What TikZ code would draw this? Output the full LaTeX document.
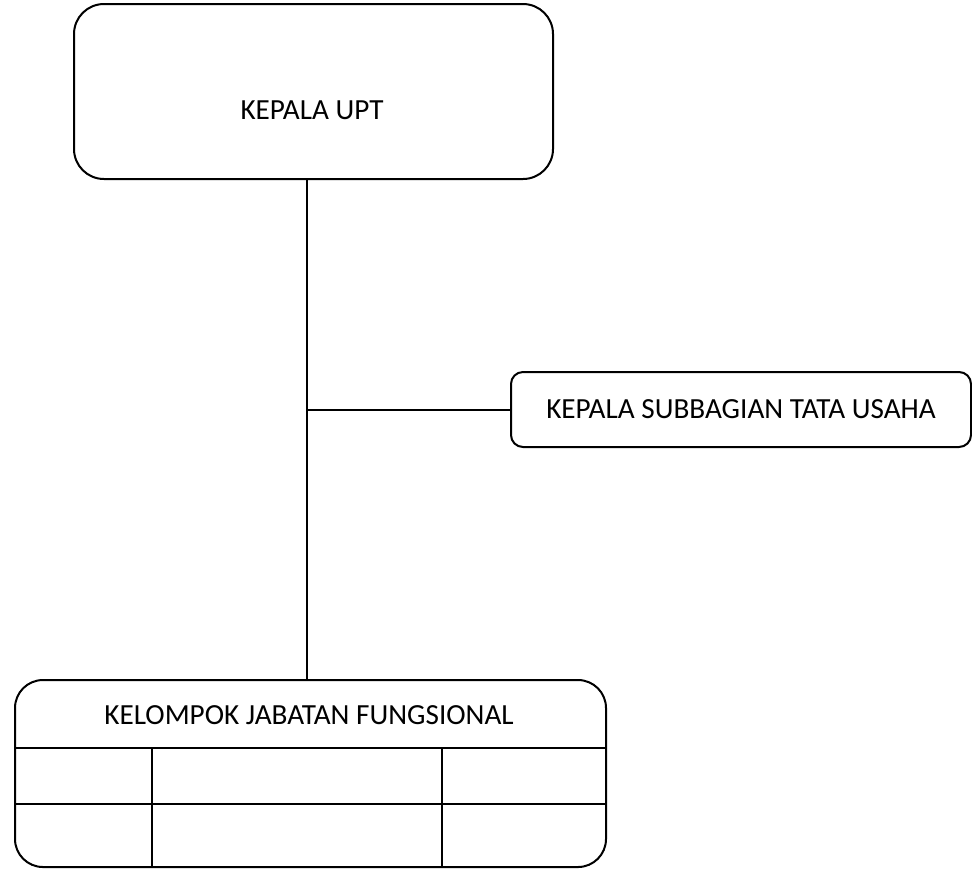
\documentclass[tikz,border=0pt]{standalone}
\usepackage{fontspec}
\setmainfont{Carlito}
\usetikzlibrary{positioning,calc}

\begin{document}
\begin{tikzpicture}[x=0.5pt,y=-0.5pt, line width=1pt,
  every node/.style={font=\fontsize{14.6}{17}\selectfont},
  unitbox/.style={draw, rounded corners=#1, inner sep=0pt, anchor=north west}]
\useasboundingbox (0,0) rectangle (972,869);
% boxes
\node[unitbox=15pt, minimum width=239.5pt, minimum height=87.5pt] (upt) at (73,3) {};
\node (upt-label) at (312,110) {KEPALA UPT};
\node[unitbox=6pt, minimum width=230pt, minimum height=37.5pt] (tu) at (510,371) {KEPALA SUBBAGIAN TATA USAHA};
\node[unitbox=14pt, minimum width=295.5pt, minimum height=93.5pt] (kjf) at (14,679) {};
\node (kjf-label) at (309,715) {KELOMPOK JABATAN FUNGSIONAL};
% grid inside the lower box
\foreach \y in {748,804} \draw (kjf.west |- 0,\y) -- (kjf.east |- 0,\y);
\foreach \x in {152,442} \draw (\x,748) -- (kjf.south -| \x,0);
% connectors
\coordinate (branch) at (tu.west -| 307,0);
\draw (upt.south -| branch) -- (kjf.north -| branch);
\draw (branch) -- (tu.west);
\end{tikzpicture}
\end{document}
